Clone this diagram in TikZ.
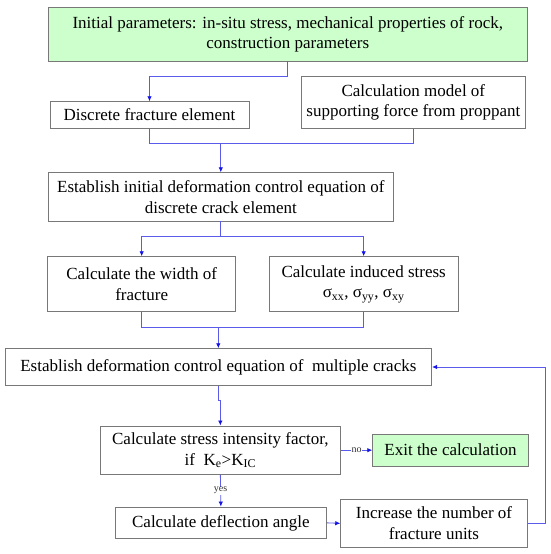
\documentclass[tikz,border=0pt]{standalone}
\usepackage{fontspec}
\setmainfont{Liberation Serif}
\usetikzlibrary{arrows.meta}
\definecolor{boxgreen}{RGB}{204,255,204}
\definecolor{boxline}{RGB}{120,120,120}
\definecolor{conn}{RGB}{90,90,235}
\definecolor{tipblue}{RGB}{20,20,230}
\tikzset{
  box/.style={draw=boxline, line width=0.9pt, inner sep=0pt, align=center,
    font=\fontsize{17}{20.6}\selectfont},
  greenbox/.style={box, fill=boxgreen},
  conline/.style={draw=conn, line width=0.8pt},
  conarrow/.style={conline, -{Latex[length=5pt,width=4.5pt,color=tipblue]}},
  lbl/.style={fill=white, inner sep=0.6pt, font=\fontsize{10}{12}\selectfont, text=black!80}
}
\begin{document}
\begin{tikzpicture}[x=1pt,y=-1pt]
\useasboundingbox (0,0) rectangle (550,554);
\node[greenbox, minimum width=479pt, minimum height=53.7pt] (b1) at (287.8,34.15)
  {Initial parameters: in-situ stress, mechanical properties of rock,\\construction parameters};
\node[box, minimum width=199pt, minimum height=26.6pt] (b2) at (149.5,115)
  {Discrete fracture element};
\node[box, minimum width=223.3pt, minimum height=51.6pt] (b3) at (413.35,102.5)
  {Calculation model of\\supporting force from proppant};
\node[box, minimum width=345pt, minimum height=48.3pt] (b4) at (220.8,196.85)
  {Establish initial deformation control equation of\\discrete crack element};
\node[box, minimum width=188pt, minimum height=54.6pt] (b5) at (141.7,284)
  {Calculate the width of\\fracture};
\node[box, minimum width=189.3pt, minimum height=54.6pt] (b6) at (363.65,284)
  {Calculate induced stress\\σ\textsubscript{xx}, σ\textsubscript{yy}, σ\textsubscript{xy}};
\node[box, minimum width=426.7pt, minimum height=36.6pt] (b7) at (218.35,367)
  {Establish deformation control equation of~ multiple cracks};
\node[box, minimum width=240.7pt, minimum height=48.3pt] (b8) at (220.35,450.15)
  {Calculate stress intensity factor,\\if~ K\textsubscript{e}>K\textsubscript{IC}};
\node[greenbox, minimum width=155.6pt, minimum height=31.7pt] (b9) at (450.5,450.15)
  {Exit the calculation};
\node[box, minimum width=211.7pt, minimum height=31.7pt] (b10) at (220.85,522.85)
  {Calculate deflection angle};
\node[box, minimum width=186.6pt, minimum height=47.3pt] (b11) at (434,523.35)
  {Increase the number of\\fracture units};

\coordinate (j1) at (287.8,76);
\coordinate (j2) at (220.8,143.3);
\coordinate (j3) at (220.8,236);
\coordinate (j4) at (218.35,327);
\coordinate (j5) at (218.35,400.3);
\coordinate (j6) at (545.7,523.35);

\draw[conarrow] (b1.south) -- (j1) -| (b2.north);
\draw[conline] (b2.south) |- (j2);
\draw[conline] (b3.south) |- (j2);
\draw[conarrow] (j2) -- (b4.north);
\draw[conarrow] (b4.south) -- (j3) -| (b5.north);
\draw[conarrow] (j3) -| (b6.north);
\draw[conline] (b5.south) |- (j4);
\draw[conline] (b6.south) |- (j4);
\draw[conarrow] (j4) -- (b7.north);
\draw[conarrow] (b7.south) -- (j5) -| (b8.north);
\draw[conarrow] (b8.east) -- node[lbl] {no} (b9.west);
\draw[conarrow] (b8.south) -- node[lbl] {yes} (b10.north);
\draw[conarrow] (b10.east) -- (b11.west);
\draw[conarrow] (b11.east) -- (j6) |- (b7.east);
\end{tikzpicture}
\end{document}
